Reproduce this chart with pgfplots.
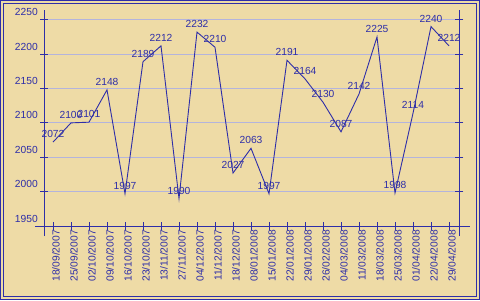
\documentclass[border=0pt]{standalone}
\usepackage{fontspec}
\setmainfont{Liberation Sans}
\usepackage{pgfplots}
\pgfplotsset{compat=1.18}
\definecolor{cblue}{HTML}{2E2EA8}
\definecolor{cgrid}{HTML}{B4B4DC}
\definecolor{cbg}{HTML}{EEDBA6}
\begin{document}
\begin{tikzpicture}[x=1bp,y=1bp]
\fill[cbg] (0,0) rectangle (480,300);
\draw[cblue,line width=1bp] (0.5,0.5) rectangle (479.5,299.5);
\draw[cblue,line width=1bp] (3.5,3.5) rectangle (476.5,296.5);
\begin{axis}[
  at={(44bp,74bp)}, anchor=south west,
  scale only axis, width=415.44bp, height=216.3bp,
  xmin=-0.5, xmax=22.58, ymin=1950, ymax=2264.6,
  clip=false,
  axis line style={draw=none},
  xtick=data,
  xticklabels={18/09/2007,25/09/2007,02/10/2007,09/10/2007,16/10/2007,23/10/2007,13/11/2007,27/11/2007,04/12/2007,11/12/2007,18/12/2007,08/01/2008,15/01/2008,22/01/2008,29/01/2008,26/02/2008,04/03/2008,11/03/2008,18/03/2008,25/03/2008,01/04/2008,22/04/2008,29/04/2008},
  ytick={1950,2000,...,2250},
  xtick pos=lower, ytick pos=both, yticklabel pos=left,
  tick align=center, major tick length=8bp,
  tick style={cblue, line width=1bp},
  ymajorgrids, major grid style={cgrid, line width=1bp},
  /pgf/number format/.cd, 1000 sep={}, assume math mode=true, /pgfplots/.cd,
  ticklabel style={font=\fontsize{10.3}{12}\selectfont, text=cblue},
  yticklabel style={anchor=east, inner sep=0pt, xshift=-2bp, yshift=7.5bp},
  xticklabel style={rotate=90, anchor=east, inner sep=0pt, yshift=-3bp},
  nodes near coords,
  every node near coord/.append style={anchor=center, yshift=8bp, inner sep=0pt, font=\fontsize{10.3}{12}\selectfont, text=cblue},
]
\draw[cblue,line width=1bp] (axis cs:-1,1950) -- (axis cs:23.17,1950);
\draw[cblue,line width=1bp] (axis cs:-0.5,1935.4) -- (axis cs:-0.5,2264.6);
\draw[cblue,line width=1bp] (axis cs:22.58,1935.4) -- (axis cs:22.58,2264.6);
\addplot[cblue, line width=0.9bp, mark=none] coordinates {
(0,2072) (1,2100) (2,2101) (3,2148) (4,1997) (5,2189) (6,2212) (7,1990)
(8,2232) (9,2210) (10,2027) (11,2063) (12,1997) (13,2191) (14,2164) (15,2130)
(16,2087) (17,2142) (18,2225) (19,1998) (20,2114) (21,2240) (22,2212)
};
\end{axis}
\end{tikzpicture}
\end{document}
